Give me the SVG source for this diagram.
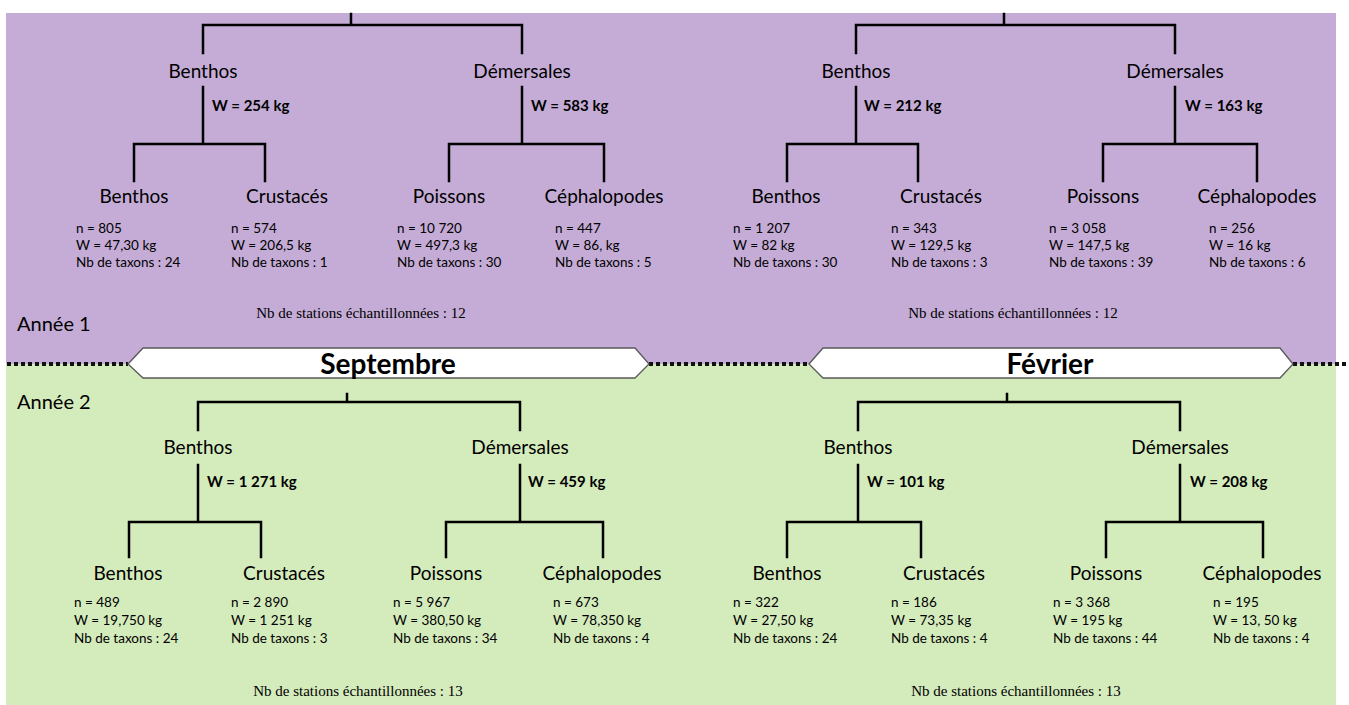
<svg xmlns="http://www.w3.org/2000/svg" width="1349" height="705" viewBox="0 0 1349 705">
<style>
.bg1{fill:#C5ACD6}
.bg2{fill:#D4EBBC}
.ln{fill:none;stroke:#000;stroke-width:2.5;stroke-linecap:square}
.dot{fill:none;stroke:#111;stroke-width:4;stroke-dasharray:4 3}
.ban{fill:#fff;stroke:#595959;stroke-width:1.3}
.mid{font-family:Lato,"Open Sans",sans-serif;font-size:19px;fill:#000;text-anchor:middle}
.leaf{font-family:Lato,"Open Sans",sans-serif;font-size:19px;fill:#000;text-anchor:middle}
.w{font-family:Lato,"Open Sans",sans-serif;font-size:15px;font-weight:bold;fill:#000}
.d{font-family:Lato,"Open Sans",sans-serif;font-size:13.5px;fill:#000}
.st{font-family:"Liberation Serif","Times New Roman",serif;font-size:15px;fill:#000;text-anchor:middle}
.yr{font-family:Lato,"Open Sans",sans-serif;font-size:20px;fill:#000}
.bt{font-family:Lato,"Open Sans",sans-serif;font-size:28px;font-weight:bold;fill:#000;text-anchor:middle}
</style>
<rect x="0" y="0" width="1349" height="705" fill="#fff"/>
<rect class="bg1" x="6" y="13" width="1330" height="351"/>
<rect class="bg2" x="6" y="364" width="1330" height="341"/>

<g id="connectors">
<path class="ln" d="M351 14V25M203 25H522M203 25V53M522 25V53M203 87V144M134 144H265M134 144V181M265 144V181M522 87V144M449 144H604M449 144V181M604 144V181"/>
<path class="ln" d="M1004 14V25M856 25H1175M856 25V53M1175 25V53M856 87V144M787 144H918M787 144V181M918 144V181M1175 87V144M1103 144H1257M1103 144V181M1257 144V181"/>
<path class="ln" d="M347 394V402M198 402H520M198 402V430M520 402V430M198 465V522M129 522H261M129 522V557M261 522V557M520 465V522M446 522H603M446 522V557M603 522V557"/>
<path class="ln" d="M1007 394V402M858 402H1180M858 402V430M1180 402V430M858 465V522M787 522H921M787 522V557M921 522V557M1180 465V522M1106 522H1263M1106 522V557M1263 522V557"/>
</g>

<g id="separator">
<path class="dot" d="M7 364H128M649 364H809M1293 364H1349"/>
</g>

<g id="banner-septembre">
<polygon class="ban" points="128,364 143,348 635,348 649,364 635,378 143,378"/>
<text class="bt" x="388" y="374">Septembre</text>
</g>
<g id="banner-fevrier">
<polygon class="ban" points="809,364 823,348 1280,348 1293,364 1280,378 823,378"/>
<text class="bt" x="1050" y="374">Février</text>
</g>

<g id="annee1"><text class="yr" x="17" y="331">Année 1</text></g>
<g id="annee2"><text class="yr" x="17" y="409">Année 2</text></g>

<g id="s1-benthos"><text class="mid" x="203" y="78">Benthos</text><text class="w" x="212" y="111">W = 254 kg</text></g>
<g id="s1-demersales"><text class="mid" x="522" y="78">Démersales</text><text class="w" x="531" y="111">W = 583 kg</text></g>
<g id="s1-benthos-leaf"><text class="leaf" x="134" y="203">Benthos</text>
<text class="d" x="76" y="233">n = 805</text><text class="d" x="76" y="250">W = 47,30 kg</text><text class="d" x="76" y="267">Nb de taxons : 24</text></g>
<g id="s1-crustaces"><text class="leaf" x="287" y="203">Crustacés</text>
<text class="d" x="231" y="233">n = 574</text><text class="d" x="231" y="250">W = 206,5 kg</text><text class="d" x="231" y="267">Nb de taxons : 1</text></g>
<g id="s1-poissons"><text class="leaf" x="449" y="203">Poissons</text>
<text class="d" x="397" y="233">n = 10 720</text><text class="d" x="397" y="250">W = 497,3 kg</text><text class="d" x="397" y="267">Nb de taxons : 30</text></g>
<g id="s1-cephalopodes"><text class="leaf" x="604" y="203">Céphalopodes</text>
<text class="d" x="555" y="233">n = 447</text><text class="d" x="555" y="250">W = 86, kg</text><text class="d" x="555" y="267">Nb de taxons : 5</text></g>
<g id="s1-stations"><text class="st" x="361" y="318">Nb de stations échantillonnées : 12</text></g>

<g id="f1-benthos"><text class="mid" x="856" y="78">Benthos</text><text class="w" x="864" y="111">W = 212 kg</text></g>
<g id="f1-demersales"><text class="mid" x="1175" y="78">Démersales</text><text class="w" x="1185" y="111">W = 163 kg</text></g>
<g id="f1-benthos-leaf"><text class="leaf" x="786" y="203">Benthos</text>
<text class="d" x="733" y="233">n = 1 207</text><text class="d" x="733" y="250">W = 82 kg</text><text class="d" x="733" y="267">Nb de taxons : 30</text></g>
<g id="f1-crustaces"><text class="leaf" x="941" y="203">Crustacés</text>
<text class="d" x="891" y="233">n = 343</text><text class="d" x="891" y="250">W = 129,5 kg</text><text class="d" x="891" y="267">Nb de taxons : 3</text></g>
<g id="f1-poissons"><text class="leaf" x="1103" y="203">Poissons</text>
<text class="d" x="1049" y="233">n = 3 058</text><text class="d" x="1049" y="250">W = 147,5 kg</text><text class="d" x="1049" y="267">Nb de taxons : 39</text></g>
<g id="f1-cephalopodes"><text class="leaf" x="1257" y="203">Céphalopodes</text>
<text class="d" x="1209" y="233">n = 256</text><text class="d" x="1209" y="250">W = 16 kg</text><text class="d" x="1209" y="267">Nb de taxons : 6</text></g>
<g id="f1-stations"><text class="st" x="1013" y="318">Nb de stations échantillonnées : 12</text></g>

<g id="s2-benthos"><text class="mid" x="198" y="454">Benthos</text><text class="w" x="207" y="487">W = 1 271 kg</text></g>
<g id="s2-demersales"><text class="mid" x="520" y="454">Démersales</text><text class="w" x="528" y="487">W = 459 kg</text></g>
<g id="s2-benthos-leaf"><text class="leaf" x="128" y="580">Benthos</text>
<text class="d" x="74" y="607">n = 489</text><text class="d" x="74" y="625">W = 19,750 kg</text><text class="d" x="74" y="643">Nb de taxons : 24</text></g>
<g id="s2-crustaces"><text class="leaf" x="284" y="580">Crustacés</text>
<text class="d" x="231" y="607">n = 2 890</text><text class="d" x="231" y="625">W = 1 251 kg</text><text class="d" x="231" y="643">Nb de taxons : 3</text></g>
<g id="s2-poissons"><text class="leaf" x="446" y="580">Poissons</text>
<text class="d" x="393" y="607">n = 5 967</text><text class="d" x="393" y="625">W = 380,50 kg</text><text class="d" x="393" y="643">Nb de taxons : 34</text></g>
<g id="s2-cephalopodes"><text class="leaf" x="602" y="580">Céphalopodes</text>
<text class="d" x="553" y="607">n = 673</text><text class="d" x="553" y="625">W = 78,350 kg</text><text class="d" x="553" y="643">Nb de taxons : 4</text></g>
<g id="s2-stations"><text class="st" x="358" y="696">Nb de stations échantillonnées : 13</text></g>

<g id="f2-benthos"><text class="mid" x="858" y="454">Benthos</text><text class="w" x="867" y="487">W = 101 kg</text></g>
<g id="f2-demersales"><text class="mid" x="1180" y="454">Démersales</text><text class="w" x="1190" y="487">W = 208 kg</text></g>
<g id="f2-benthos-leaf"><text class="leaf" x="787" y="580">Benthos</text>
<text class="d" x="733" y="607">n = 322</text><text class="d" x="733" y="625">W = 27,50 kg</text><text class="d" x="733" y="643">Nb de taxons : 24</text></g>
<g id="f2-crustaces"><text class="leaf" x="944" y="580">Crustacés</text>
<text class="d" x="891" y="607">n = 186</text><text class="d" x="891" y="625">W = 73,35 kg</text><text class="d" x="891" y="643">Nb de taxons : 4</text></g>
<g id="f2-poissons"><text class="leaf" x="1106" y="580">Poissons</text>
<text class="d" x="1053" y="607">n = 3 368</text><text class="d" x="1053" y="625">W = 195 kg</text><text class="d" x="1053" y="643">Nb de taxons : 44</text></g>
<g id="f2-cephalopodes"><text class="leaf" x="1262" y="580">Céphalopodes</text>
<text class="d" x="1213" y="607">n = 195</text><text class="d" x="1213" y="625">W = 13, 50 kg</text><text class="d" x="1213" y="643">Nb de taxons : 4</text></g>
<g id="f2-stations"><text class="st" x="1016" y="696">Nb de stations échantillonnées : 13</text></g>
</svg>
